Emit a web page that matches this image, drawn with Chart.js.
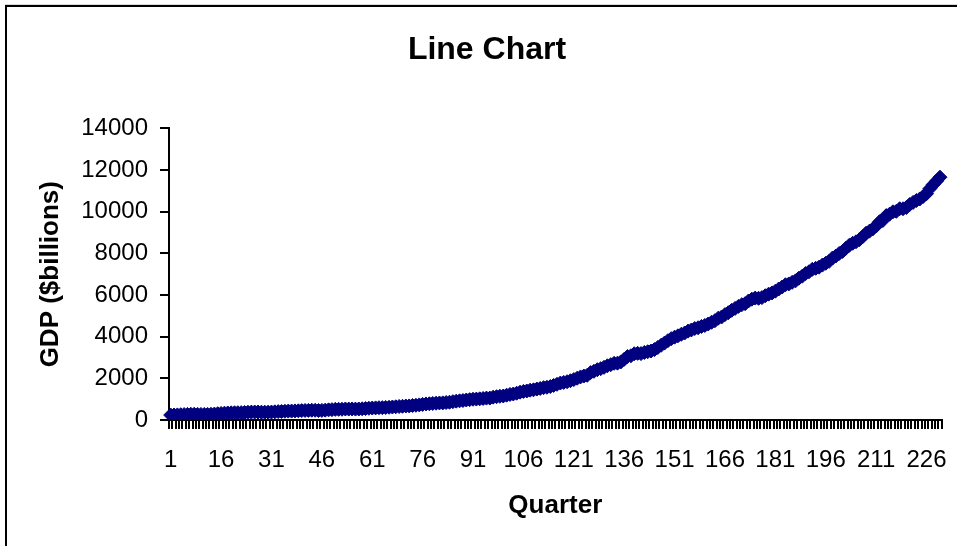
<!DOCTYPE html>
<html>
<head>
<meta charset="utf-8">
<title>Line Chart</title>
<script src="https://cdn.jsdelivr.net/npm/chart.js@4.4.1/dist/chart.umd.min.js"></script>
<style>
  html, body { margin: 0; padding: 0; background: #fff; overflow: hidden; }
  #frame {
    position: absolute; left: 5px; top: 5px; width: 1000px; height: 600px;
    border: 2px solid #000; box-shadow: 0 -1px 0 #d8d8d8;
  }
  #chart { position: absolute; left: 0; top: 0; }
</style>
</head>
<body>
<div id="frame"></div>
<canvas id="chart" width="957" height="546"></canvas>
<script>
// quarterly GDP, $billions (1947 Q1 onwards)
const gdp = [
  237.2, 240.4, 244.5, 254.3,
  260.3, 267.3, 273.8, 275.1,
  269.9, 266.2, 267.7, 265.2,
  275.2, 284.6, 302.0, 313.4,
  329.0, 336.6, 343.5, 347.9,
  351.3, 352.7, 359.0, 371.9,
  378.3, 381.7, 382.5, 375.9,
  376.1, 376.6, 382.0, 391.2,
  402.6, 410.4, 419.0, 426.8,
  429.4, 436.0, 441.0, 450.2,
  458.4, 461.3, 468.0, 464.5,
  457.6, 460.2, 473.6, 487.5,
  498.1, 510.5, 512.5, 515.6,
  527, 525, 530, 524,
  528, 538, 550, 563,
  576, 582, 591, 594,
  602, 610, 624, 634,
  649, 658, 671, 676,
  695, 707, 726, 748,
  771, 780, 794, 807,
  817, 822, 838, 853,
  880, 904, 920, 936,
  961, 976, 997, 1005,
  1017, 1033, 1051, 1053,
  1098, 1119, 1140, 1152,
  1191, 1226, 1249, 1286,
  1336, 1372, 1391, 1432,
  1448, 1486, 1515, 1553,
  1571, 1606, 1662, 1713,
  1774, 1805, 1838, 1885,
  1940, 2006, 2067, 2111,
  2149, 2275, 2337, 2417,
  2465, 2528, 2603, 2658,
  2723, 2730, 2788, 2914,
  3048, 3085, 3181, 3200,
  3188, 3244, 3277, 3312,
  3380, 3482, 3590, 3692,
  3807, 3906, 3978, 4041,
  4115, 4178, 4267, 4323,
  4393, 4429, 4490, 4539,
  4609, 4691, 4767, 4888,
  4947, 5060, 5151, 5264,
  5357, 5455, 5536, 5586,
  5714, 5799, 5853, 5843,
  5877, 5966, 6043, 6100,
  6185, 6290, 6383, 6494,
  6532, 6609, 6680, 6808,
  6906, 7033, 7115, 7235,
  7282, 7338, 7437, 7524,
  7617, 7776, 7871, 7995,
  8095, 8246, 8386, 8485,
  8556, 8655, 8802, 8968,
  9066, 9174, 9313, 9519,
  9579, 9814, 9882, 9994,
  10020, 10143, 10142, 10202,
  10348, 10447, 10540, 10614,
  10733, 10866, 11110, 11307,
  11472, 11657
];

// category labels 1..n
const quarters = gdp.map((v, i) => i + 1);

// labels Excel actually prints on the x axis
const shownTicks = [1, 16, 31, 46, 61, 76, 91, 106, 121, 136, 151, 166, 181, 196, 211, 226];

const yMax = 14000;
const yStep = 2000;

const font = 'Arial, "Liberation Sans", sans-serif';

const chart = document.querySelector('#chart').getContext('2d');

new Chart(chart, {
  type: 'line',
  data: {
    labels: quarters,
    datasets: [
      {
        label: 'GDP',
        data: gdp,
        borderColor: '#000080',
        backgroundColor: '#000080',
        borderWidth: 4,
        pointStyle: 'rectRot',
        pointRadius: 7,
        pointBorderWidth: 1,
        pointBackgroundColor: '#000080',
        pointBorderColor: '#000080',
        tension: 0
      }
    ]
  },
  options: {
    responsive: false,
    animation: false,
    layout: { padding: { left: 23, right: 6, top: 0, bottom: 0 } },
    plugins: {
      legend: { display: false },
      tooltip: { enabled: false },
      title: {
        display: true,
        text: 'Line Chart',
        color: '#000',
        font: { family: font, size: 32, weight: 'bold' },
        padding: { top: 31, bottom: 59 }
      }
    },
    scales: {
      x: {
        offset: true,
        grid: { offset: true, drawOnChartArea: false, color: '#000', lineWidth: 2, tickLength: 9 },
        border: { color: '#000', width: 2 },
        ticks: {
          autoSkip: false,
          maxRotation: 0,
          minRotation: 0,
          padding: 17,
          color: '#000',
          font: { family: font, size: 24 },
          callback: (value, index) => shownTicks.includes(quarters[index]) ? quarters[index] : ''
        },
        title: {
          display: true,
          text: 'Quarter',
          color: '#000',
          font: { family: font, size: 26, weight: 'bold' },
          padding: { top: 0, bottom: 25 }
        },
        afterFit: (scale) => { scale.height = 126; }
      },
      y: {
        min: 0,
        max: yMax,
        ticks: {
          stepSize: yStep,
          padding: 12,
          color: '#000',
          font: { family: font, size: 24 },
          callback: (value) => String(value)
        },
        grid: { drawOnChartArea: false, color: '#000', lineWidth: 2, tickLength: 9 },
        border: { color: '#000', width: 2 },
        title: {
          display: true,
          text: 'GDP ($billions)',
          color: '#000',
          font: { family: font, size: 26, weight: 'bold' },
          padding: { top: 12, bottom: 0 }
        },
        afterFit: (scale) => { scale.width = 146; }
      }
    }
  }
});
</script>
</body>
</html>
